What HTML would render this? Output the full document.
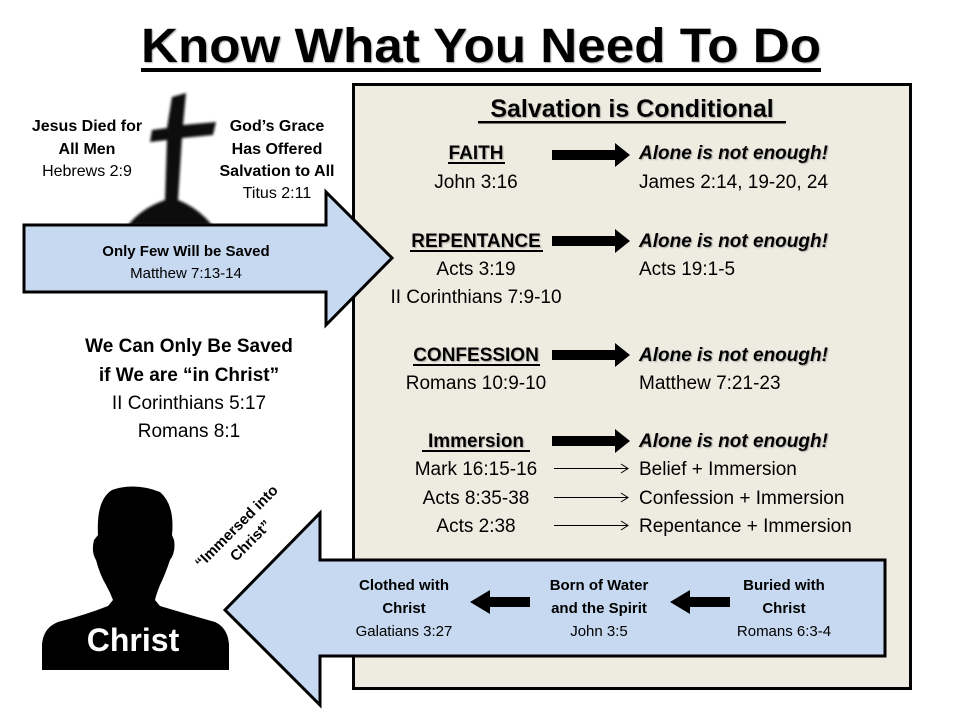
<!DOCTYPE html>
<html><head><meta charset="utf-8"><style>
html,body{margin:0;padding:0;background:#fff;}
svg{display:block;font-family:"Liberation Sans",sans-serif;}
</style></head><body>
<svg width="960" height="720" viewBox="0 0 960 720" xmlns="http://www.w3.org/2000/svg">
<defs><filter id="sh"><feDropShadow dx="1" dy="1" stdDeviation="0.6" flood-color="#888" flood-opacity="0.7"/></filter>
<filter id="bl"><feGaussianBlur stdDeviation="1.2"/></filter></defs>
<!-- title -->
<text x="481" y="62" text-anchor="middle" font-size="48" font-weight="bold" fill="#000" filter="url(#sh)" textLength="680" lengthAdjust="spacingAndGlyphs">Know What You Need To Do</text>
<rect x="141" y="68" width="680" height="4" fill="#000"/>
<!-- main box -->
<rect x="353.5" y="84.5" width="557" height="604" fill="#eeece1" stroke="#000" stroke-width="3"/>
<!-- cross -->
<path filter="url(#bl)" d="M172 97 L186 93 L183 125 L216 122 L213 135 L182 138 L178 200 Q198 208 212 225 L128 225 Q142 208 165 200 L167 140 L150 142 L152 130 L167 128 Z" fill="#111"/>
<!-- right arrow -->
<polygon points="24,225 326,225 326,192 392,258 326,325 326,292 24,292" fill="#c6d9f1" stroke="#000" stroke-width="3" stroke-linejoin="miter"/>
<!-- left arrow -->
<polygon points="885,560 320,560 320,513 225,610 320,705 320,656 885,656" fill="#c6d9f1" stroke="#000" stroke-width="3"/>
<!-- person -->
<path d="M98 535 Q96 500 112 490 Q135 482 160 492 Q175 505 172 535 L174 540 Q176 552 170 560 Q165 575 160 585 Q156 595 155 600 L160 606 Q190 615 215 622 Q228 628 229 645 L229 670 L42 670 L42 645 Q43 628 58 622 Q85 615 108 606 L113 600 Q110 592 106 585 Q100 575 96 560 Q91 552 94 540 Z" fill="#000"/>
<g font-size="16" text-anchor="middle" fill="#000">
<text x="87" y="131" font-weight="bold">Jesus Died for</text>
<text x="87" y="154" font-weight="bold">All Men</text>
<text x="87" y="176">Hebrews 2:9</text>
<text x="277" y="131" font-weight="bold">God’s Grace</text>
<text x="277" y="154" font-weight="bold">Has Offered</text>
<text x="277" y="176" font-weight="bold">Salvation to All</text>
<text x="277" y="198">Titus 2:11</text>
<text x="186" y="256" font-weight="bold" font-size="15">Only Few Will be Saved</text>
<text x="186" y="278" font-size="15">Matthew 7:13-14</text>
<text x="189" y="352" font-weight="bold" font-size="19">We Can Only Be Saved</text>
<text x="189" y="381" font-weight="bold" font-size="19">if We are “in Christ”</text>
<text x="189" y="409" font-size="19">II Corinthians 5:17</text>
<text x="189" y="437" font-size="19">Romans 8:1</text>
<text x="133" y="651" font-weight="bold" font-size="32" fill="#fff">Christ</text>
<g transform="translate(240,530) rotate(-45)" font-size="15" font-weight="bold">
<text x="0" y="0">“Immersed into</text><text x="0" y="20">Christ”</text></g>
<text x="404" y="590" font-weight="bold" font-size="15">Clothed with</text>
<text x="404" y="613" font-weight="bold" font-size="15">Christ</text>
<text x="404" y="636" font-size="15">Galatians 3:27</text>
<text x="599" y="590" font-weight="bold" font-size="15">Born of Water</text>
<text x="599" y="613" font-weight="bold" font-size="15">and the Spirit</text>
<text x="599" y="636" font-size="15">John 3:5</text>
<text x="784" y="590" font-weight="bold" font-size="15">Buried with</text>
<text x="784" y="613" font-weight="bold" font-size="15">Christ</text>
<text x="784" y="636" font-size="15">Romans 6:3-4</text>
</g>
<polygon points="530,597 490,597 490,590 470,602 490,614 490,607 530,607" fill="#000"/>
<polygon points="730,597 690,597 690,590 670,602 690,614 690,607 730,607" fill="#000"/>
<!-- box header -->
<text x="632" y="117" text-anchor="middle" font-size="25" font-weight="bold" filter="url(#sh)">Salvation is Conditional</text>
<rect x="478" y="121" width="308" height="2.5" fill="#000"/>
<g font-size="19" fill="#000">
<g text-anchor="middle">
<text x="476" y="159" font-weight="bold" filter="url(#sh)">FAITH</text>
<rect x="448" y="162" width="57" height="2" fill="#000"/>
<text x="476" y="188">John 3:16</text>
<text x="476" y="247" font-weight="bold" filter="url(#sh)">REPENTANCE</text>
<rect x="410" y="250" width="133" height="2" fill="#000"/>
<text x="476" y="275">Acts 3:19</text>
<text x="476" y="303">II Corinthians 7:9-10</text>
<text x="476" y="361" font-weight="bold" filter="url(#sh)">CONFESSION</text>
<rect x="413" y="364" width="127" height="2" fill="#000"/>
<text x="476" y="389">Romans 10:9-10</text>
<text x="476" y="447" font-weight="bold" filter="url(#sh)">Immersion</text>
<rect x="422" y="450" width="108" height="2" fill="#000"/>
<text x="476" y="475">Mark 16:15-16</text>
<text x="476" y="504">Acts 8:35-38</text>
<text x="476" y="532">Acts 2:38</text>
</g>
<g font-weight="bold" font-style="italic" filter="url(#sh)">
<text x="639" y="159">Alone is not enough!</text>
<text x="639" y="247">Alone is not enough!</text>
<text x="639" y="361">Alone is not enough!</text>
<text x="639" y="447">Alone is not enough!</text>
</g>
<text x="639" y="188">James 2:14, 19-20, 24</text>
<text x="639" y="275">Acts 19:1-5</text>
<text x="639" y="389">Matthew 7:21-23</text>
<text x="639" y="475">Belief + Immersion</text>
<text x="639" y="504">Confession + Immersion</text>
<text x="639" y="532">Repentance + Immersion</text>
</g>
<g fill="#000">
<polygon points="552,150 615,150 615,143 630,155 615,167 615,160 552,160"/>
<polygon points="552,236 615,236 615,229 630,241 615,253 615,246 552,246"/>
<polygon points="552,350 615,350 615,343 630,355 615,367 615,360 552,360"/>
<polygon points="552,436 615,436 615,429 630,441 615,453 615,446 552,446"/>
</g>
<g stroke="#000" stroke-width="1" fill="none">
<path d="M554 468.5 H628 M621 464 L628 468.5 L621 473"/>
<path d="M554 497.5 H628 M621 493 L628 497.5 L621 502"/>
<path d="M554 525.5 H628 M621 521 L628 525.5 L621 530"/>
</g>
</svg>
</body></html>
